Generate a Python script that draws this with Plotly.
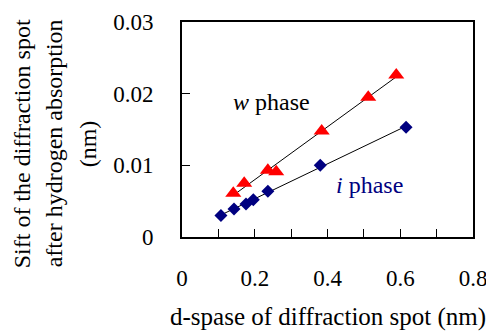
import numpy as np
import plotly.graph_objects as go

# w phase (red triangles)
w_x = [0.141, 0.171, 0.236, 0.259, 0.384, 0.512, 0.589]
w_y = [0.0061, 0.0075, 0.0093, 0.0091, 0.0148, 0.0195, 0.0226]
# i phase (navy diamonds)
i_x = [0.107, 0.143, 0.176, 0.196, 0.236, 0.380, 0.616]
i_y = [0.0030, 0.0039, 0.0046, 0.0052, 0.0064, 0.0100, 0.0153]

x_ticks = [0, 0.1, 0.2, 0.3, 0.4, 0.5, 0.6, 0.7, 0.8]
x_labels = ["0", "", "0.2", "", "0.4", "", "0.6", "", "0.8"]
y_ticks = [0, 0.01, 0.02, 0.03]
y_labels = ["0", "0.01", "0.02", "0.03"]

FONT = "Liberation Serif, Times New Roman, serif"
FS_TICK = 23
FS = 24

def fit_line(xs, ys):
    k, b = np.polyfit(xs, ys, 1)
    x0, x1 = min(xs), max(xs)
    return [x0, x1], [k * x0 + b, k * x1 + b]

fig = go.Figure()
lx, ly = fit_line(w_x, w_y)
fig.add_trace(go.Scatter(x=lx, y=ly, mode="lines", line=dict(color="black", width=1), showlegend=False))
lx, ly = fit_line(i_x, i_y)
fig.add_trace(go.Scatter(x=lx, y=ly, mode="lines", line=dict(color="black", width=1), showlegend=False))
fig.add_trace(go.Scatter(x=w_x, y=w_y, mode="markers",
                         marker=dict(symbol="triangle-up", size=14, color="#FF0000"), showlegend=False))
fig.add_trace(go.Scatter(x=i_x, y=i_y, mode="markers",
                         marker=dict(symbol="diamond", size=10, color="#000080"), showlegend=False))

axis_common = dict(showgrid=False, zeroline=False, showline=True, linecolor="black", linewidth=1.6,
                   mirror=True, ticks="inside", ticklen=8, tickwidth=1, tickcolor="black",
                   tickfont=dict(family=FONT, size=FS_TICK, color="black"))
fig.update_xaxes(range=[0, 0.8], tickmode="array", tickvals=x_ticks, ticktext=x_labels,
                 ticklabelstandoff=20, **axis_common)
fig.update_yaxes(range=[0, 0.03], tickmode="array", tickvals=y_ticks, ticktext=y_labels,
                 ticklabelstandoff=22, **axis_common)

fig.add_annotation(x=0.247, y=0.0189, xref="x", yref="y", text="<i>w</i> phase", showarrow=False,
                   xanchor="center", yanchor="middle",
                   font=dict(family=FONT, size=FS, color="black"))
fig.add_annotation(x=0.515, y=0.0073, xref="x", yref="y", text="<i>i</i> phase", showarrow=False,
                   xanchor="center", yanchor="middle",
                   font=dict(family=FONT, size=FS, color="#000080"))

fig.add_annotation(x=0.5, y=-0.37, xref="paper", yref="paper", text="d-spase of diffraction spot (nm)",
                   showarrow=False, xanchor="center", yanchor="middle",
                   font=dict(family=FONT, size=25, color="black"))
for txt, xp in [("Sift of the diffraction spot", -0.547),
                ("after hydrogen absorption", -0.437),
                ("(nm)", -0.32)]:
    fig.add_annotation(x=xp, y=0.435, xref="paper", yref="paper", text=txt, textangle=-90,
                       showarrow=False, xanchor="center", yanchor="middle",
                       font=dict(family=FONT, size=FS, color="black"))

# page body has an 8px margin, so the figure is 8px smaller and margins shifted
fig.update_layout(width=486, height=323, margin=dict(l=174, r=21, t=14, b=94, autoexpand=False),
                  plot_bgcolor="white", paper_bgcolor="white")
fig.write_html("out.html")
